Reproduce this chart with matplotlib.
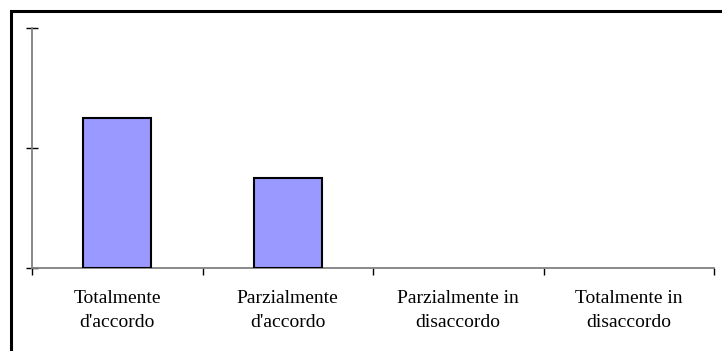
import matplotlib.pyplot as plt
from matplotlib.patches import Rectangle
import numpy as np

categories = ["Totalmente\nd'accordo", "Parzialmente\nd'accordo",
              "Parzialmente in\ndisaccordo", "Totalmente in\ndisaccordo"]
values = [5, 3, 0, 0]
y_ticks = [0, 4, 8]

W, H = 722, 351
fig = plt.figure(figsize=(W / 100, H / 100), dpi=100)
fig.patch.set_facecolor("white")

# outer frame (right and bottom edges fall outside the image)
fig.patches.append(Rectangle((11 / W, -0.1), 1.1, (H - 11) / H + 0.1,
                             transform=fig.transFigure, fill=False,
                             edgecolor="black", linewidth=2.2))

ax = fig.add_axes([32 / W, 83 / H, (714 - 32) / W, 240 / H])
x = np.arange(len(categories))
edges = ["black" if v > 0 else "none" for v in values]
ax.bar(x, values, width=0.4, color="#9999FF", edgecolor=edges, linewidth=1.5, zorder=3)

ax.set_xlim(-0.5, len(categories) - 0.5)
ax.set_ylim(0, 8)
ax.set_yticks(y_ticks)
ax.set_yticklabels([])
ax.set_xticks(np.arange(len(categories) + 1) - 0.5)
ax.set_xticklabels([])
ax.set_xticks(x, minor=True)
ax.set_xticklabels(categories, minor=True, fontfamily="Liberation Serif",
                   fontsize=14, linespacing=1.55)

for s in ["top", "right"]:
    ax.spines[s].set_visible(False)
for s in ["left", "bottom"]:
    ax.spines[s].set_color("#808080")
    ax.spines[s].set_linewidth(1.3)

ax.tick_params(axis="y", direction="inout", length=9, width=1, color="black")
ax.tick_params(axis="x", which="major", direction="out", length=5, width=1, color="black")
ax.tick_params(axis="x", which="minor", length=0, pad=16)

plt.savefig("out.png", dpi=100)
